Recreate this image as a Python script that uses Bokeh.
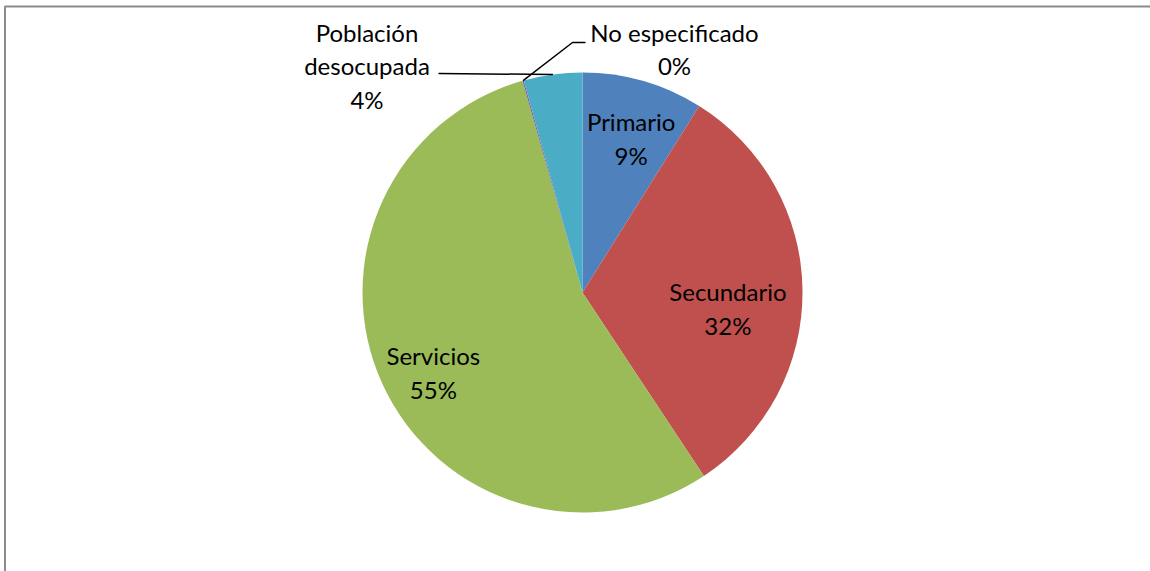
import numpy as np
from bokeh.plotting import figure
from bokeh.models import Range1d
from bokeh.core.properties import value
from bokeh.embed import file_html
from bokeh.resources import INLINE

# ---- data ----
categories = ["Primario", "Secundario", "Servicios", "No especificado", "Población desocupada"]
label_names = ["Primario", "Secundario", "Servicios", "No especificado", "Población\ndesocupada"]
shares = [8.9, 31.8, 54.9, 0.1, 4.3]
colors = ["#4F81BD", "#C0504D", "#9BBB59", "#8064A2", "#4BACC6"]

# ---- layout ----
W, H = 1150, 571
FONT = "Lato"
LH = 1.17

p = figure(width=W, height=H, x_range=Range1d(0, W), y_range=Range1d(0, H),
           output_backend="svg", toolbar_location=None, min_border=0)
p.axis.visible = False
p.grid.visible = False
p.outline_line_color = None
p.background_fill_color = "white"
p.border_fill_color = "white"
p.styles = {"position": "absolute", "left": "0px", "top": "0px"}


def sy(y):
    return H - y


# chart border
p.quad(left=[4.5], right=[W + 20], top=[sy(6)], bottom=[-20],
       fill_color=None, line_color="#8c8c8c", line_width=2)

cx, cy, R = 582, sy(292), 220
vals = np.array(shares, dtype=float)
frac = vals / vals.sum()
cum = np.concatenate([[0.0], np.cumsum(frac)])
start = np.pi / 2 - cum[:-1] * 2 * np.pi
end = np.pi / 2 - cum[1:] * 2 * np.pi
p.wedge(x=cx, y=cy, radius=R, start_angle=start, end_angle=end,
        direction="clock", fill_color=colors, line_color=None)

pct = [f"{int(round(f * 100))}%" for f in frac]
mid_deg = (cum[:-1] + cum[1:]) / 2 * 360.0  # clockwise from 12 o'clock

# inner labels
rf = [0.735, 0.665, 0.769]
da = [1.5, 7.0, -3.5]
lx, ly, lt = [], [], []
for i in range(3):
    a = np.radians(mid_deg[i] + da[i])
    lx.append(cx + rf[i] * R * np.sin(a))
    ly.append(cy + rf[i] * R * np.cos(a))
    lt.append(f"{label_names[i]}\n{pct[i]}")
p.text(x=lx, y=ly, text=lt, text_font=value(FONT), text_font_size="24px",
       text_align="center", text_baseline="middle", text_line_height=LH,
       text_color="black")

# outer labels with leader lines
edge = []
for i in (3, 4):
    a = np.radians(mid_deg[i])
    edge.append((cx + R * np.sin(a), cy + R * np.cos(a)))

# No especificado
ne_x, ne_y = 674, sy(48.5)
p.text(x=[ne_x], y=[ne_y], text=[f"{label_names[3]}\n{pct[3]}"], text_font=value(FONT),
       text_font_size="24px", text_align="center", text_baseline="middle",
       text_line_height=LH, text_color="black")
p.line(x=[edge[0][0], ne_x - 102, ne_x - 89], y=[edge[0][1], ne_y + 6.5, ne_y + 6.5],
       line_color="black", line_width=1.5)

# Población desocupada
pd_x, pd_y = 366.5, sy(65.5)
p.text(x=[pd_x], y=[pd_y], text=[f"{label_names[4]}\n{pct[4]}"], text_font=value(FONT),
       text_font_size="24px", text_align="center", text_baseline="middle",
       text_line_height=LH, text_color="black")
p.line(x=[pd_x + 71.5, edge[1][0]], y=[sy(73), edge[1][1]],
       line_color="black", line_width=1.5)

open("out.html", "w").write(file_html(p, INLINE))
